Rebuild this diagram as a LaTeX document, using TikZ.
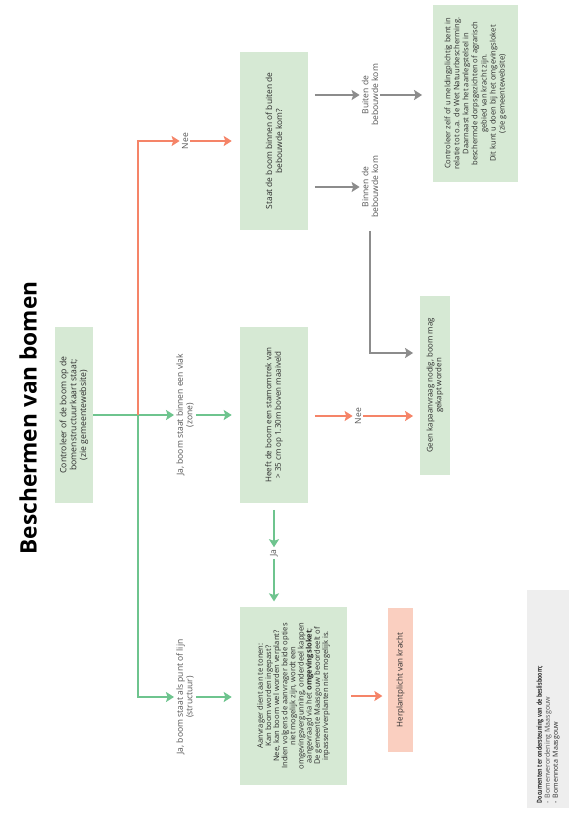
\documentclass[tikz,border=0pt]{standalone}
\usepackage{fontspec}
\setmainfont{Open Sans}
\usetikzlibrary{arrows.meta}
\definecolor{boxgreen}{RGB}{214,233,212}
\definecolor{boxsalmon}{RGB}{250,207,192}
\definecolor{boxgray}{RGB}{238,238,238}
\definecolor{lgreen}{RGB}{110,196,142}
\definecolor{lorange}{RGB}{245,132,104}
\definecolor{lgray}{RGB}{140,140,140}
\definecolor{txt}{RGB}{45,45,45}
\definecolor{ltxt}{RGB}{85,85,85}
\begin{document}
\begin{tikzpicture}[x=0.75pt,y=-0.75pt,
  every node/.style={font=\fontsize{5.7}{6.1}\selectfont, text=txt},
  box/.style={rotate=90, inner sep=0pt, align=center},
  lbl/.style={rotate=90, align=center, inner sep=1.5pt, text=ltxt, font=\fontsize{6.4}{7.2}\selectfont},
  conn/.style={line width=2pt, -{Stealth[length=6pt,width=7.5pt,inset=1.2pt]}},
  gline/.style={line width=2pt, draw=lgreen},
  garrow/.style={conn, draw=lgreen},
  oarrow/.style={conn, draw=lorange},
  grarrow/.style={conn, draw=lgray}
]
\useasboundingbox (0,0) rectangle (571,829);

\node[rotate=90, font=\fontsize{17}{20}\selectfont\bfseries, text=black] (title) at (28,418) {Beschermen van bomen};

\node[box, fill=boxgreen, minimum width=132pt, minimum height=28.5pt, font=\fontsize{6.5}{7.4}\selectfont] (b1) at (74,415)
  {Controleer of de boom op de\\bomenstructuurkaart staat;\\(zie gemeentewebsite)};
\node[box, fill=boxgreen, minimum width=132pt, minimum height=51pt, font=\fontsize{6}{7.2}\selectfont] (b2) at (274,415)
  {Heeft de boom een stamomtrek van\\> 35 cm op 1.30m boven maaiveld};
\node[box, fill=boxgreen, minimum width=133.5pt, minimum height=51pt, font=\fontsize{6.3}{7.4}\selectfont] (b3) at (274,141)
  {Staat de boom binnen of buiten de\\bebouwde kom?};
\node[box, fill=boxgreen, minimum width=133.5pt, minimum height=80.25pt] (b4) at (293.5,696)
  {Aanvrager dient aan te tonen:\\Kan boom worden ingepast?\\Nee, kan boom wel worden verplant?\\Indien volgens de aanvrager beide opties\\niet mogelijk zijn, wordt een\\omgevingsvergunning, onderdeel kappen\\aangevraagd via het \textbf{omgevingsloket};\\De gemeente Maasgouw beoordeelt of\\inpassen/verplanten niet mogelijk is.};
\node[box, fill=boxsalmon, minimum width=108pt, minimum height=18.75pt, font=\fontsize{6}{7}\selectfont] (b5) at (400.5,680)
  {Herplantplicht van kracht};
\node[box, fill=boxgreen, minimum width=134.25pt, minimum height=22.5pt, font=\fontsize{5.9}{6.6}\selectfont] (b6) at (435,385.5)
  {Geen kapaanvraag nodig, boom mag\\gekapt worden};
\node[box, fill=boxgreen, minimum width=132.75pt, minimum height=63.75pt, font=\fontsize{5.7}{6.8}\selectfont] (b7) at (475.5,93.5)
  {Controleer zelf of u meldingplichtig bent in\\relatie tot o.a. de Wet Natuurbescherming.\\Daarnaast kan het aanlegstelsel in\\beschermde dorpsgezichten of agrarisch\\gebied van kracht zijn.\\Dit kunt u doen bij het omgevingsloket\\(zie gemeentewebsite)};
\node[box, fill=boxgray, minimum width=163.5pt, minimum height=32pt, text width=156pt, align=left, font=\fontsize{5.3}{6}\selectfont] (b8) at (548,699)
  {\scalebox{0.76}[1]{\fontsize{5.2}{6}\selectfont\textbf{Documenten ter ondersteuning van de beslisboom;}}\\{\color{ltxt}- Bomenverordening Maasgouw}\\- Bomennota Maasgouw};

\node[lbl] (lnee1) at (185,141) {Nee};
\node[lbl] (lzone) at (185,415) {Ja, boom staat binnen een vlak\\(zone)};
\node[lbl] (lstruc) at (185,697) {Ja, boom staat als punt of lijn\\(structuur)};
\node[lbl] (lja) at (274,553) {Ja};
\node[lbl] (lnee2) at (358,416) {Nee};
\node[lbl] (lbuiten) at (370,95) {Buiten de\\bebouwde kom};
\node[lbl] (lbinnen) at (370,187) {Binnen de\\bebouwde kom};

\coordinate (J) at (138,415);

\draw[gline] (b1.south) -- (J);
\draw[garrow] (J) -- (lzone.north);
\draw[garrow, shorten >=6pt] (lzone.south) -- (b2.north);
\draw[garrow] (J) |- (lstruc.north);
\draw[garrow, shorten >=6pt] (lstruc.south) -- (lstruc.south -| b4.north);
\draw[oarrow] (J) |- (lnee1.north);
\draw[oarrow, shorten >=6pt] (lnee1.south) -- (b3.north);

\draw[garrow, shorten <=5pt] (b2.west) -- (lja.east);
\draw[garrow, shorten >=4pt] (lja.west) -- (lja.west |- b4.east);

\draw[oarrow, shorten <=5pt] (b2.south |- lnee2) -- (lnee2.north);
\draw[oarrow, shorten >=5pt] (lnee2.south) -- (lnee2.south -| b6.north);

\draw[grarrow, shorten <=5pt] (b3.south |- lbuiten) -- (lbuiten.north);
\draw[grarrow, shorten >=8pt] (lbuiten.south) -- (lbuiten.south -| b7.north);
\draw[grarrow, shorten <=5pt] (b3.south |- lbinnen) -- (lbinnen.north);
\draw[grarrow, shorten <=8pt, shorten >=5pt] (lbinnen.west) |- (b6.north |- 0,353);

\draw[oarrow, shorten <=3pt, shorten >=4pt] (b4.south) -- (b4.south -| b5.north);
\end{tikzpicture}
\end{document}
